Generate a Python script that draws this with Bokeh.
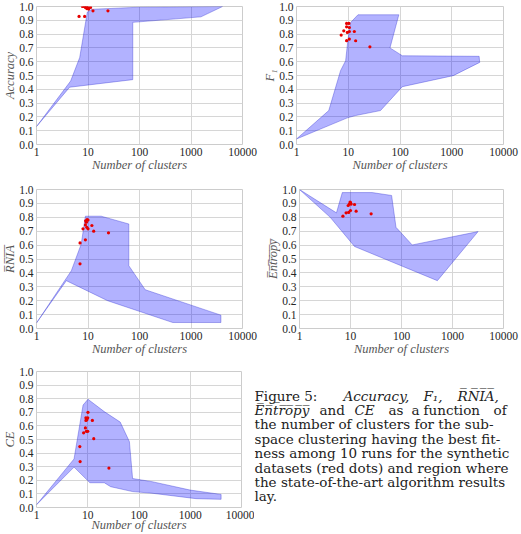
from bokeh.plotting import figure
from bokeh.layouts import column, row
from bokeh.models import Range1d, FixedTicker, NumeralTickFormatter
from bokeh.core.properties import value
from bokeh.embed import file_html
from bokeh.resources import INLINE

# ---------------- data ----------------
x_ticks = [1, 10, 100, 1000, 10000]
x_tick_labels = ["1", "10", "100", "1000", "10000"]
y_ticks = [0.0, 0.1, 0.2, 0.3, 0.4, 0.5, 0.6, 0.7, 0.8, 0.9, 1.0]
y_tick_labels = ["0.0", "0.1", "0.2", "0.3", "0.4", "0.5", "0.6", "0.7", "0.8", "0.9", "1.0"]
x_label = "Number of clusters"

OV = "\u0305"


def overline(s):
    return "".join(c + OV for c in s)


metric_labels = ["Accuracy", "F\u2081", overline("RNIA"), overline("Entropy"), "CE"]

# state-of-the-art region outlines (number of clusters, score)
acc_region_x = [1, 4.6, 6.9, 9.7, 12, 100, 4100, 1560, 74, 74, 4.4]
acc_region_y = [0.13, 0.46, 0.63, 0.96, 0.98, 0.995, 1.0, 0.925, 0.885, 0.47, 0.415]
acc_dots_x = [6.7, 7.8, 8.4, 8.6, 8.9, 9.3, 9.5, 9.7, 10.0, 10.3, 11.2, 12.5, 24.4]
acc_dots_y = [0.928, 1.0, 1.0, 0.928, 0.993, 1.0, 0.985, 0.988, 0.993, 0.981, 0.993, 0.969, 0.969]

f1_region_x = [1, 4.2, 7.1, 8.9, 9.8, 11.1, 15.4, 95, 64, 111, 3380, 3470, 1070, 111, 42, 13.9, 9.6]
f1_region_y = [0.04, 0.246, 0.535, 0.607, 0.75, 0.884, 0.94, 0.94, 0.70, 0.643, 0.639, 0.595, 0.499, 0.419, 0.246, 0.21, 0.193]
f1_dots_x = [9.3, 10.3, 9.3, 10.5, 8.2, 9.6, 10.5, 13.1, 7.3, 9.3, 10.5, 13.9, 26.2]
f1_dots_y = [0.877, 0.877, 0.853, 0.848, 0.824, 0.812, 0.819, 0.819, 0.793, 0.752, 0.764, 0.752, 0.708]

rnia_region_x = [1, 4.75, 7.4, 8.9, 18, 62, 62, 129, 3810, 3810, 442, 24, 3.8]
rnia_region_y = [0.04, 0.416, 0.608, 0.808, 0.808, 0.752, 0.452, 0.279, 0.096, 0.043, 0.043, 0.2, 0.344]
rnia_dots_x = [7.0, 7.0, 8.9, 8.0, 8.9, 9.3, 9.0, 9.6, 10.0, 9.5, 10.0, 11.9, 12.9, 25.0]
rnia_dots_y = [0.465, 0.616, 0.638, 0.717, 0.745, 0.765, 0.775, 0.783, 0.78, 0.728, 0.717, 0.741, 0.70, 0.688]

ent_region_x = [1, 5.3, 6.9, 26.5, 64, 78, 162, 3170, 505, 12, 4.0]
ent_region_y = [1.0, 0.832, 0.978, 0.978, 0.957, 0.728, 0.601, 0.697, 0.344, 0.59, 0.8]
ent_dots_x = [7.1, 8.2, 9.2, 10.0, 9.0, 9.5, 10.0, 10.3, 9.8, 12.0, 12.9, 25.4]
ent_dots_y = [0.808, 0.832, 0.835, 0.849, 0.885, 0.895, 0.905, 0.895, 0.91, 0.892, 0.844, 0.825]

ce_region_x = [1, 5.4, 8.1, 10.1, 21, 43, 65, 75, 180, 1000, 4000, 4000, 1300, 180, 75, 28, 21, 11, 5.4]
ce_region_y = [0.02, 0.357, 0.753, 0.796, 0.705, 0.628, 0.484, 0.213, 0.19, 0.128, 0.096, 0.06, 0.065, 0.105, 0.117, 0.153, 0.182, 0.182, 0.297]
ce_dots_x = [10.1, 9.2, 9.6, 10.0, 9.2, 9.6, 12.3, 9.0, 8.3, 9.4, 10.0, 7.0, 13.1, 7.1, 25.9]
ce_dots_y = [0.70, 0.66, 0.65, 0.66, 0.64, 0.645, 0.64, 0.585, 0.549, 0.56, 0.56, 0.448, 0.506, 0.338, 0.29]

caption_line1 = [("Figure 5:", "normal"), ("Accuracy,", "italic"), ("F\u2081,", "italic"), (overline("RNIA") + ",", "italic")]
caption_line2 = [(overline("Entropy"), "italic"), ("and", "normal"), ("CE", "italic"), ("as", "normal"), ("a", "normal"), ("function", "normal"), ("of", "normal")]
caption_rest = [
    "the number of clusters for the sub-",
    "space clustering having the best fit-",
    "ness among 10 runs for the synthetic",
    "datasets (red dots) and region where",
    "the state-of-the-art algorithm results",
    "lay.",
]

SERIF = "Liberation Serif"


def make_plot(rx, ry, dx, dy, ylabel, width, height, left, right, top, bottom, xlabel_standoff=-1):
    p = figure(width=width, height=height, x_axis_type="log",
               x_range=Range1d(1, 10000), y_range=Range1d(0, 1),
               output_backend="svg", toolbar_location=None,
               min_border_left=left, min_border_right=right,
               min_border_top=top, min_border_bottom=bottom)
    p.patch(rx, ry, fill_color="#0000ff", fill_alpha=0.3,
            line_color="#2a2ad0", line_alpha=0.45, line_width=0.8)
    p.scatter(dx, dy, size=3.2, color="#e60000", line_color=None)

    xt = FixedTicker(ticks=x_ticks, minor_ticks=[])
    yt = FixedTicker(ticks=y_ticks, minor_ticks=[])
    p.xaxis.ticker = xt
    p.yaxis.ticker = yt
    p.xgrid.ticker = xt
    p.ygrid.ticker = yt
    p.xaxis.formatter = NumeralTickFormatter(format="0")
    p.yaxis.formatter = NumeralTickFormatter(format="0.0")
    p.xaxis.major_label_overrides = {float(t): l for t, l in zip(x_ticks, x_tick_labels)}
    p.yaxis.major_label_overrides = {float(t): l for t, l in zip(y_ticks, y_tick_labels)}

    p.xaxis.axis_label = x_label
    p.yaxis.axis_label = ylabel

    p.grid.grid_line_color = "#d6d6d6"
    p.grid.grid_line_width = 1
    p.outline_line_color = "#cccccc"
    p.axis.axis_line_color = None
    p.axis.major_tick_line_color = None
    p.axis.minor_tick_line_color = None
    p.axis.major_tick_out = 0
    p.axis.major_tick_in = 0
    p.axis.minor_tick_out = 0
    p.axis.minor_tick_in = 0
    p.axis.major_label_text_font = SERIF
    p.axis.major_label_text_font_size = "11.5px"
    p.axis.major_label_text_color = "#262626"
    p.xaxis.major_label_standoff = 3
    p.yaxis.major_label_standoff = 3
    p.axis.axis_label_text_font = SERIF
    p.axis.axis_label_text_font_style = "italic"
    p.axis.axis_label_text_font_size = "12.5px"
    p.axis.axis_label_text_color = "#555555"
    p.xaxis.axis_label_standoff = xlabel_standoff
    p.yaxis.axis_label_standoff = -1
    p.background_fill_color = "white"
    p.border_fill_color = "white"
    return p


p1 = make_plot(acc_region_x, acc_region_y, acc_dots_x, acc_dots_y, metric_labels[0], 260, 183, 35, 18, 6, 39)
p2 = make_plot(f1_region_x, f1_region_y, f1_dots_x, f1_dots_y, metric_labels[1], 261, 183, 36, 18, 6, 39)
p3 = make_plot(rnia_region_x, rnia_region_y, rnia_dots_x, rnia_dots_y, metric_labels[2], 260, 182, 35, 18, 6, 37)
p4 = make_plot(ent_region_x, ent_region_y, ent_dots_x, ent_dots_y, metric_labels[3], 261, 182, 39, 18, 6, 37)
p5 = make_plot(ce_region_x, ce_region_y, ce_dots_x, ce_dots_y, metric_labels[4], 254, 169, 33, 13, 6, 20,
               xlabel_standoff=-4)

# ---------------- caption panel ----------------
CW, CH = 267, 169
p6 = figure(width=CW, height=CH, x_range=Range1d(0, CW), y_range=Range1d(CH, 0),
            output_backend="svg", toolbar_location=None,
            x_axis_location=None, y_axis_location=None, min_border=0)
p6.grid.visible = False
p6.outline_line_color = None

CAP_FONT = "DejaVu Serif"
CAP_SIZE = "13.5px"
top_y = 30
line_gap = 17.9
line1_x = [0, 89, 169, 203]
line2_x = [0, 65, 100, 134, 157, 169, 239]

norm_x, norm_y, norm_t = [], [], []
ital_x, ital_y, ital_t = [], [], []
for (txt, style), xx in zip(caption_line1, line1_x):
    if style == "italic":
        ital_x.append(xx); ital_y.append(top_y); ital_t.append(txt)
    else:
        norm_x.append(xx); norm_y.append(top_y); norm_t.append(txt)
for (txt, style), xx in zip(caption_line2, line2_x):
    if style == "italic":
        ital_x.append(xx); ital_y.append(top_y + line_gap); ital_t.append(txt)
    else:
        norm_x.append(xx); norm_y.append(top_y + line_gap); norm_t.append(txt)
for i, txt in enumerate(caption_rest):
    norm_x.append(0); norm_y.append(top_y + line_gap * (i + 2)); norm_t.append(txt)

p6.text(x=norm_x, y=norm_y, text=norm_t, text_font=value(CAP_FONT), text_font_size=CAP_SIZE,
        text_baseline="middle", text_align="left", text_color="#222222")
p6.text(x=ital_x, y=ital_y, text=ital_t, text_font=value(CAP_FONT), text_font_size=CAP_SIZE,
        text_font_style="italic", text_baseline="middle", text_align="left", text_color="#222222")

layout = column(row(p1, p2), row(p3, p4), row(p5, p6))

open("out.html", "w").write(file_html(layout, INLINE))
